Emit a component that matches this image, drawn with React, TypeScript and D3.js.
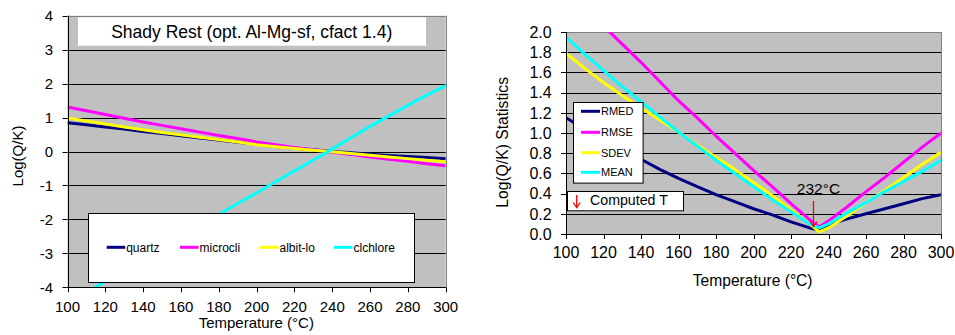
import React from "react";
import * as d3 from "d3";

// ---- Left panel: saturation indices of individual minerals ----
const mineralTemps = [100, 110, 120, 130, 140, 150, 160, 170, 180, 190, 200, 210, 220, 230, 240, 250, 260, 270, 280, 290, 300];
const quartz = [0.85, 0.79, 0.72, 0.66, 0.59, 0.53, 0.46, 0.4, 0.34, 0.27, 0.21, 0.15, 0.1, 0.05, 0.0, -0.04, -0.08, -0.12, -0.15, -0.18, -0.21];
const microcli = [1.31, 1.2, 1.09, 0.98, 0.87, 0.77, 0.67, 0.57, 0.47, 0.38, 0.28, 0.2, 0.12, 0.05, -0.02, -0.09, -0.16, -0.23, -0.29, -0.36, -0.42];
const albitLo = [0.99, 0.9, 0.81, 0.72, 0.64, 0.56, 0.49, 0.42, 0.35, 0.28, 0.2, 0.14, 0.09, 0.04, -0.01, -0.06, -0.11, -0.16, -0.21, -0.26, -0.3];
const clchlore = [-4.48, -4.15, -3.82, -3.49, -3.16, -2.83, -2.5, -2.17, -1.85, -1.53, -1.22, -0.89, -0.57, -0.25, 0.07, 0.41, 0.74, 1.05, 1.36, 1.66, 1.94];
const mineralNames = ["quartz", "microcli", "albit-lo", "clchlore"];
const leftYTicks = [-4, -3, -2, -1, 0, 1, 2, 3, 4];
const xTicks = [100, 120, 140, 160, 180, 200, 220, 240, 260, 280, 300];
const leftTitle = "Shady Rest (opt. Al-Mg-sf, cfact 1.4)";

// ---- Right panel: statistics of the saturation indices ----
const statTemps = [100, 110, 120, 130, 140, 150, 160, 170, 180, 190, 200, 210, 220, 230, 235, 240, 250, 260, 270, 280, 290, 300];
const rmed = [1.15, 1.04, 0.94, 0.84, 0.74, 0.64, 0.55, 0.47, 0.39, 0.32, 0.25, 0.19, 0.12, 0.06, 0.04, 0.09, 0.15, 0.2, 0.25, 0.3, 0.35, 0.39];
const rmse = [2.43, 2.24, 2.06, 1.88, 1.7, 1.51, 1.32, 1.15, 0.97, 0.8, 0.63, 0.47, 0.3, 0.14, 0.07, 0.13, 0.27, 0.42, 0.56, 0.71, 0.86, 1.0];
const sdev = [1.79, 1.64, 1.5, 1.37, 1.25, 1.13, 1.01, 0.88, 0.76, 0.64, 0.51, 0.38, 0.24, 0.1, 0.02, 0.06, 0.18, 0.31, 0.43, 0.56, 0.69, 0.81];
const mean = [1.95, 1.78, 1.62, 1.46, 1.31, 1.16, 1.01, 0.87, 0.73, 0.6, 0.47, 0.34, 0.22, 0.1, 0.06, 0.1, 0.21, 0.31, 0.42, 0.52, 0.62, 0.73];
const statNames = ["RMED", "RMSE", "SDEV", "MEAN"];
const rightYTicks = [0, 0.2, 0.4, 0.6, 0.8, 1.0, 1.2, 1.4, 1.6, 1.8, 2.0];
const computedT = 232;

const seriesColors = ["#000080", "#FF00FF", "#FFFF00", "#00FFFF"];

const FONT = "'Liberation Sans', Arial, Helvetica, sans-serif";
const PLOT_BG = "#C0C0C0";
const px = (v: number) => Math.round(v) + 0.5;

type Pt = [number, number];

function zip(xs: number[], ys: number[]): Pt[] {
  return xs.map((x, i) => [x, ys[i]] as Pt);
}

function LeftChart() {
  const x = d3.scaleLinear().domain([100, 300]).range([67.5, 445.7]);
  const y = d3.scaleLinear().domain([-4, 4]).range([287.3, 15.7]);
  const line = d3
    .line<Pt>()
    .x((d) => x(d[0]))
    .y((d) => y(d[1]));
  const series = [quartz, microcli, albitLo, clchlore];
  const [x0, x1] = x.range();
  const [y0, y1] = y.range();

  const legendItemX = [106.7, 180, 260, 334];

  return (
    <g>
      <defs>
        <clipPath id="clipLeft">
          <rect x={x0} y={y1} width={x1 - x0} height={y0 - y1} />
        </clipPath>
      </defs>
      <rect x={x0} y={y1} width={x1 - x0} height={y0 - y1} fill={PLOT_BG} />
      {leftYTicks.map((t) => (
        <line key={t} x1={x0} x2={x1} y1={px(y(t))} y2={px(y(t))} stroke={t === 4 ? "#808080" : "#000"} strokeWidth={1} />
      ))}
      <line x1={px(x1)} x2={px(x1)} y1={y1} y2={y0} stroke="#808080" strokeWidth={1} />
      <g clipPath="url(#clipLeft)">
        {series.map((s, i) => (
          <path key={i} d={line(zip(mineralTemps, s)) || ""} fill="none" stroke={seriesColors[i]} strokeWidth={3} strokeLinejoin="round" />
        ))}
      </g>
      {/* axes */}
      <line x1={px(x0)} x2={px(x0)} y1={y1} y2={y0 + 0.5} stroke="#000" />
      <line x1={x0} x2={x1} y1={px(y0)} y2={px(y0)} stroke="#000" />
      {leftYTicks.map((t) => (
        <g key={t}>
          <line x1={x0 - 5} x2={x0} y1={px(y(t))} y2={px(y(t))} stroke="#000" />
          <text x={53} y={y(t) + 5.3} textAnchor="end" fontSize={15} fontFamily={FONT} fill="#000">
            {t}
          </text>
        </g>
      ))}
      {xTicks.map((t) => (
        <g key={t}>
          <line x1={px(x(t))} x2={px(x(t))} y1={y0} y2={y0 + 5} stroke="#000" />
          <text x={x(t)} y={311.7} textAnchor="middle" fontSize={15} fontFamily={FONT} fill="#000">
            {t}
          </text>
        </g>
      ))}
      <text x={256.3} y={328.3} textAnchor="middle" fontSize={15} fontFamily={FONT} fill="#000">
        Temperature (°C)
      </text>
      <text transform="translate(22.5,156) rotate(-90)" textAnchor="middle" fontSize={15} fontFamily={FONT} fill="#000">
        Log(Q/K)
      </text>
      {/* title box */}
      <rect x={78} y={17.3} width={348} height={28.4} fill="#fff" />
      <text x={251.7} y={37.6} textAnchor="middle" fontSize={17.5} fontFamily={FONT} fill="#000">
        {leftTitle}
      </text>
      {/* legend */}
      <rect x={px(87.7)} y={px(213.3)} width={326} height={69} fill="#fff" stroke="#000" strokeWidth={1} />
      {mineralNames.map((n, i) => (
        <g key={n}>
          <line x1={legendItemX[i]} x2={legendItemX[i] + 18.5} y1={247.3} y2={247.3} stroke={seriesColors[i]} strokeWidth={3} />
          <text x={legendItemX[i] + 19.5} y={251.5} fontSize={12} fontFamily={FONT} fill="#000">
            {n}
          </text>
        </g>
      ))}
    </g>
  );
}

function RightChart() {
  const x = d3.scaleLinear().domain([100, 300]).range([566, 941]);
  const y = d3.scaleLinear().domain([0, 2]).range([234, 32]);
  const line = d3
    .line<Pt>()
    .x((d) => x(d[0]))
    .y((d) => y(d[1]));
  const series = [rmed, rmse, sdev, mean];
  const [x0, x1] = x.range();
  const [y0, y1] = y.range();
  const legendY = [111.3, 132.3, 152.7, 172.3];
  const ax = x(computedT);

  return (
    <g>
      <defs>
        <clipPath id="clipRight">
          <rect x={x0} y={y1} width={x1 - x0} height={y0 - y1} />
        </clipPath>
      </defs>
      <rect x={x0} y={y1} width={x1 - x0} height={y0 - y1} fill={PLOT_BG} />
      {rightYTicks.map((t) => (
        <line key={t} x1={x0} x2={x1} y1={px(y(t))} y2={px(y(t))} stroke={t === 2 ? "#808080" : "#000"} strokeWidth={1} />
      ))}
      <line x1={px(x1)} x2={px(x1)} y1={y1} y2={y0} stroke="#808080" strokeWidth={1} />
      <g clipPath="url(#clipRight)">
        {series.map((s, i) => (
          <path key={i} d={line(zip(statTemps, s)) || ""} fill="none" stroke={seriesColors[i]} strokeWidth={3} strokeLinejoin="round" />
        ))}
      </g>
      <line x1={px(x0)} x2={px(x0)} y1={y1} y2={y0 + 0.5} stroke="#000" />
      <line x1={x0} x2={x1} y1={px(y0)} y2={px(y0)} stroke="#000" />
      {rightYTicks.map((t) => (
        <g key={t}>
          <line x1={x0 - 5} x2={x0} y1={px(y(t))} y2={px(y(t))} stroke="#000" />
          <text x={551.7} y={y(t) + 5.8} textAnchor="end" fontSize={16} fontFamily={FONT} fill="#000">
            {t.toFixed(1)}
          </text>
        </g>
      ))}
      {xTicks.map((t) => (
        <g key={t}>
          <line x1={px(x(t))} x2={px(x(t))} y1={y0} y2={y0 + 5} stroke="#000" />
          <text x={x(t)} y={258.3} textAnchor="middle" fontSize={16} fontFamily={FONT} fill="#000">
            {t}
          </text>
        </g>
      ))}
      <text x={752.7} y={285.7} textAnchor="middle" fontSize={15.6} fontFamily={FONT} fill="#000">
        Temperature (°C)
      </text>
      <text transform="translate(508,142.4) rotate(-90)" textAnchor="middle" fontSize={15.7} fontFamily={FONT} fill="#000">
        Log(Q/K) Statistics
      </text>
      {/* legend */}
      <rect x={px(572.7)} y={px(101.7)} width={69.6} height={80.6} fill="#fff" stroke="#000" strokeWidth={1} />
      {statNames.map((n, i) => (
        <g key={n}>
          <line x1={581} x2={600} y1={legendY[i]} y2={legendY[i]} stroke={seriesColors[i]} strokeWidth={3} />
          <text x={601} y={legendY[i] + 4} fontSize={11} fontFamily={FONT} fill="#000">
            {n}
          </text>
        </g>
      ))}
      {/* computed temperature marker */}
      <rect x={px(567.3)} y={px(191)} width={116} height={19.3} fill="#fff" stroke="#000" strokeWidth={1} />
      <line x1={576.7} x2={576.7} y1={195} y2={207} stroke="#FF0000" strokeWidth={1.3} />
      <path d="M573.2,202.5 L576.7,207.5 L580.2,202.5" fill="none" stroke="#FF0000" strokeWidth={1.3} />
      <text x={590} y={205} fontSize={14.2} fontFamily={FONT} fill="#000">
        Computed T
      </text>
      <text x={ax + 5} y={194} textAnchor="middle" fontSize={15.5} fontFamily={FONT} fill="#000">
        {`${computedT}°C`}
      </text>
      <line x1={ax} x2={ax} y1={201} y2={226.5} stroke="#FF0000" strokeWidth={1.3} />
      <path d={`M${ax - 3.5},221.5 L${ax},226.7 L${ax + 3.5},221.5`} fill="none" stroke="#FF0000" strokeWidth={1.3} />
    </g>
  );
}

export default function App() {
  return (
    <svg
      width={955}
      height={335}
      viewBox="0 0 955 335"
      style={{ position: "absolute", left: 0, top: 0, background: "#fff" }}
    >
      <rect x={0} y={0} width={955} height={335} fill="#fff" />
      <LeftChart />
      <RightChart />
    </svg>
  );
}
